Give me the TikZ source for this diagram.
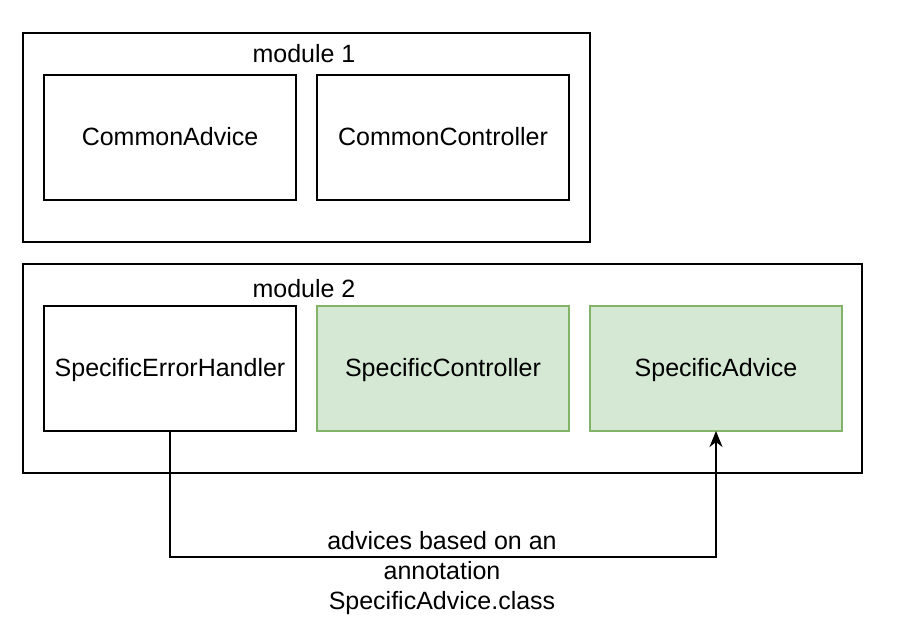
\documentclass[tikz,border=0pt]{standalone}
\usepackage{fontspec}
\setmainfont{Liberation Sans}
\usetikzlibrary{arrows.meta}
\definecolor{greenfill}{HTML}{D5E8D4}
\definecolor{greenline}{HTML}{82B366}
\begin{document}
\begin{tikzpicture}[
        x=0.5pt, y=-0.5pt,
        module/.style={rectangle, draw, line width=1pt, inner sep=0pt, outer sep=0pt, minimum width=#1, minimum height=104.5pt},
        cls/.style={rectangle, draw, line width=1pt, inner sep=0pt, outer sep=0pt, minimum width=126pt, minimum height=62.5pt, text depth=1.5pt, font=\fontsize{12.5}{15}\selectfont},
        specific/.style={cls, draw=greenline, fill=greenfill},
        arrow/.style={-{Stealth[length=8pt, width=6.5pt, inset=2.5pt]}, line width=1pt},
        txt/.style={font=\fontsize{12.5}{15}\selectfont, inner sep=0pt}
    ]
        \useasboundingbox (0,0) rectangle (910,634);

        % Module 1
        \node[module=283.5pt] (mod1) at (306.5,137.5) {};
        \node[txt] (mod1label) at (304,54) {module 1};
        \node[cls] (ca) at (170,137.5) {CommonAdvice};
        \node[cls] (cc) at (443,137.5) {CommonController};

        % Module 2
        \node[module=419.5pt] (mod2) at (442.5,368.5) {};
        \node[txt] (mod2label) at (304,289) {module 2};
        \node[cls] (seh) at (170,368.5) {SpecificErrorHandler};
        \node[specific] (sc) at (443,368.5) {SpecificController};
        \node[specific] (sa) at (716,368.5) {SpecificAdvice};

        % Advice link
        \coordinate (low) at (443,557);
        \draw[arrow] (seh.south) |- (low) -| (sa.south);
        \node[txt, align=center] (linklabel) at (442,573) {advices based on an\\annotation\\SpecificAdvice.class};
    \end{tikzpicture}
\end{document}
